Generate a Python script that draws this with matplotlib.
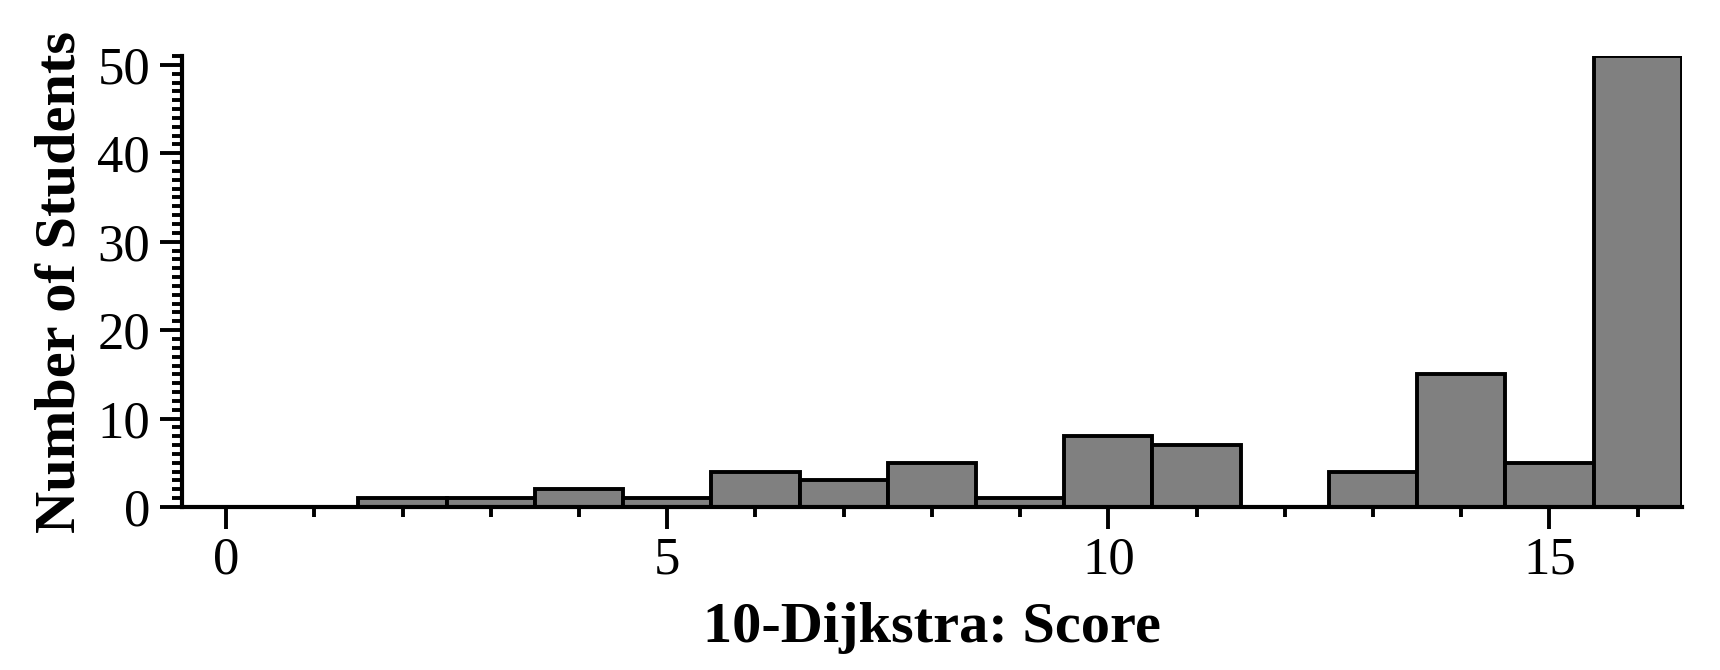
import matplotlib
matplotlib.use('Agg')
import matplotlib.pyplot as plt
from matplotlib.ticker import MultipleLocator

scores = [0, 1, 2, 3, 4, 5, 6, 7, 8, 9, 10, 11, 12, 13, 14, 15, 16]
counts = [0, 0, 1, 1, 2, 1, 4, 3, 5, 1, 8, 7, 0, 4, 15, 5, 51]
x_major = [0, 5, 10, 15]
y_major = [0, 10, 20, 30, 40, 50]

plt.rcParams['font.family'] = ['Liberation Serif', 'DejaVu Serif']

fig = plt.figure(figsize=(17.2, 6.7), dpi=100)
ax = fig.add_axes([0.1058, 0.2433, 0.8720, 0.6731])

ax.bar(scores, counts, width=1.0, color='#808080', edgecolor='black', linewidth=2.8)

ax.set_xlim(-0.5, 16.5)
ax.set_ylim(0, 51)
ax.set_xticks(x_major)
ax.set_yticks(y_major)
ax.xaxis.set_minor_locator(MultipleLocator(1))
ax.yaxis.set_minor_locator(MultipleLocator(1))

for side in ['top', 'right']:
    ax.spines[side].set_visible(False)
for side in ['left', 'bottom']:
    ax.spines[side].set_linewidth(3)

ax.tick_params(which='major', direction='out', length=16, width=2.8, labelsize=38)
ax.tick_params(axis='x', which='major', pad=5)
ax.tick_params(axis='y', which='major', pad=7)
ax.tick_params(which='minor', direction='out', length=7, width=2.8)

ax.set_xlabel('10-Dijkstra: Score', fontsize=42, fontweight='bold', labelpad=13)
ax.set_ylabel('Number of Students', fontsize=42, fontweight='bold', labelpad=8)

fig.savefig('out.png', dpi=100)
plt.close(fig)
